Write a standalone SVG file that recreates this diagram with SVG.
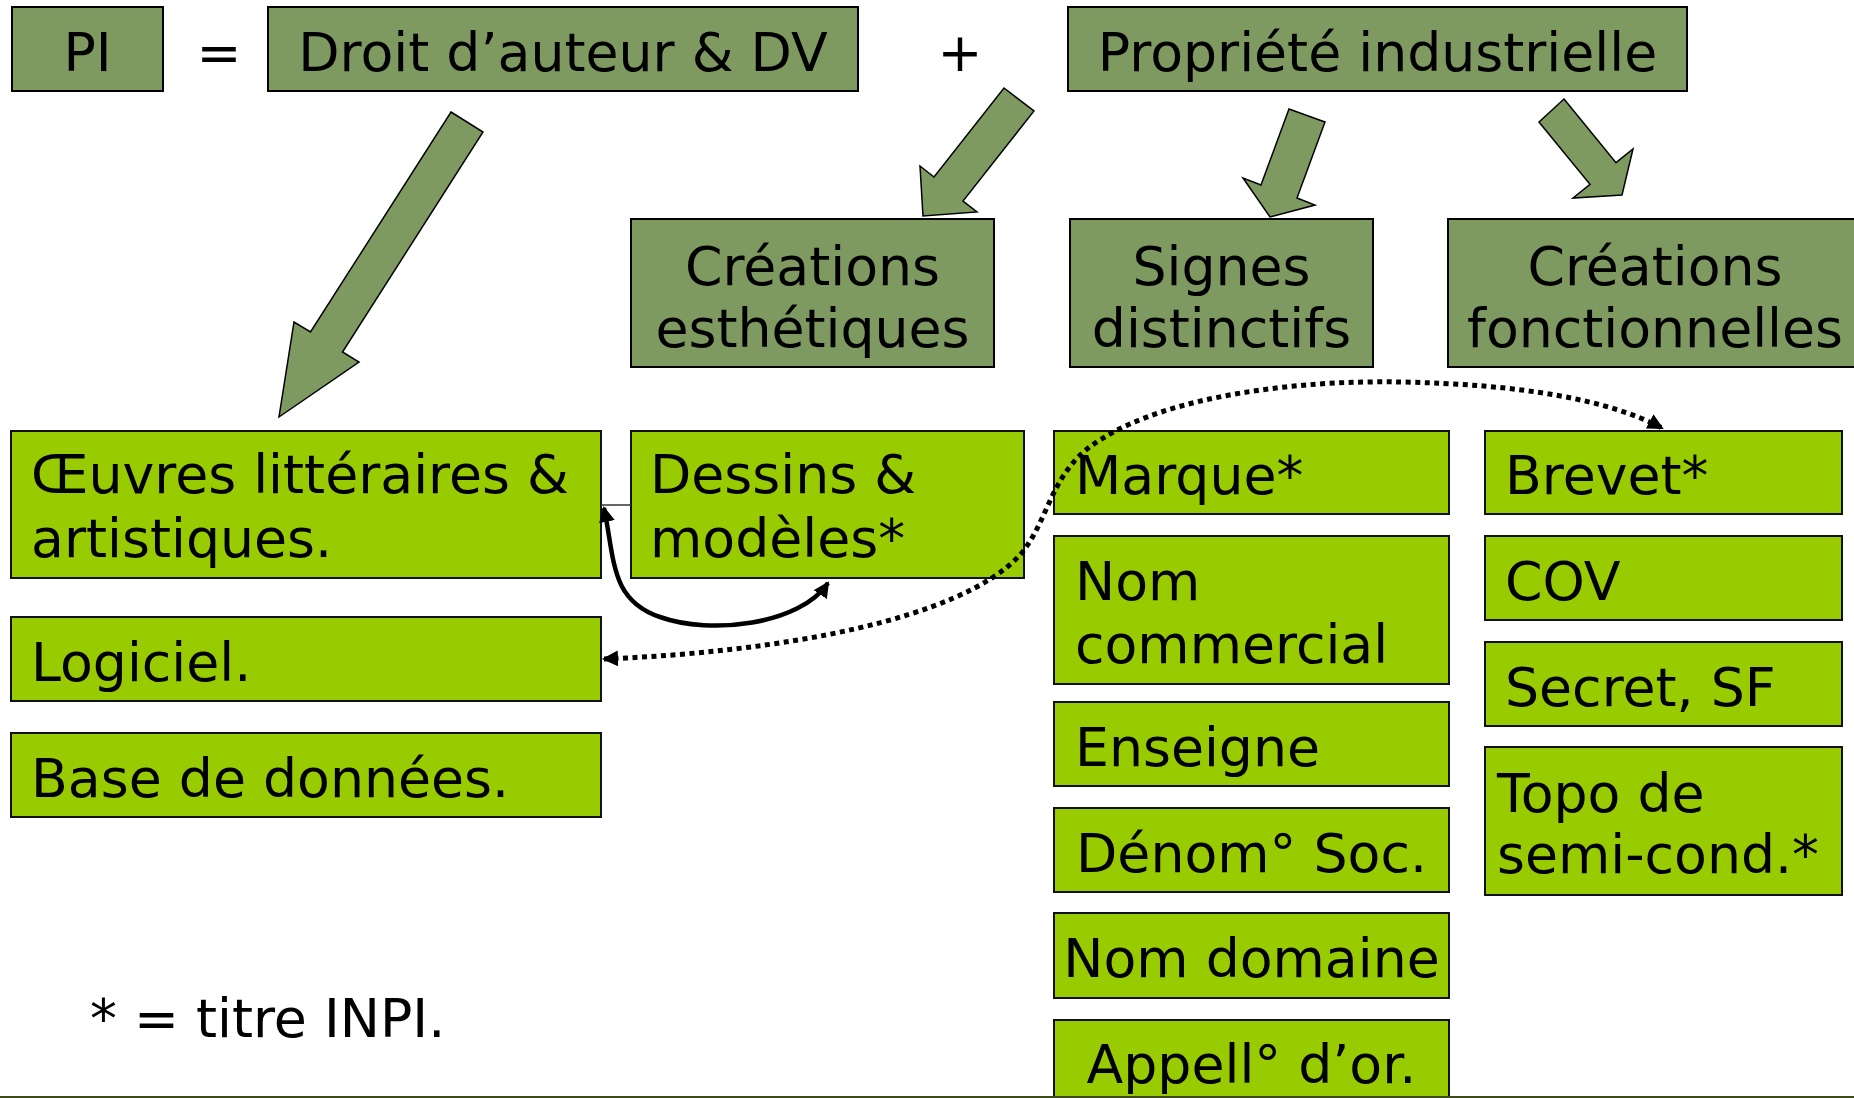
<svg xmlns="http://www.w3.org/2000/svg" width="1854" height="1098" viewBox="0 0 1854 1098">
<style>
.dk{fill:#7f9a60;stroke:#000;stroke-width:2}
.lt{fill:#99cc00;stroke:#111;stroke-width:2}
.t{font-family:"DejaVu Sans","Liberation Sans",sans-serif;font-size:53.7px;fill:#000}
.c{text-anchor:middle}
.ba{fill:#7f9a60;stroke:#000;stroke-width:1.5;stroke-linejoin:miter}
.solid{fill:none;stroke:#000;stroke-width:4.5}
.dot{fill:none;stroke:#000;stroke-width:5;stroke-dasharray:5 4.5}
</style>
<defs>
<marker id="ah" markerUnits="userSpaceOnUse" markerWidth="18" markerHeight="16" refX="14" refY="8" orient="auto-start-reverse">
<path d="M0,0 L16,8 L0,16 Z" fill="#000" stroke="none"/>
</marker>
</defs>
<rect width="1854" height="1098" fill="#fff"/>

<g id="n-pi"><rect class="dk" x="12" y="7" width="151" height="84"/><text class="t c" x="87.5" y="71">PI</text></g>
<g id="eq"><text class="t c" x="219" y="71">=</text></g>
<g id="n-da"><rect class="dk" x="268" y="7" width="590" height="84"/><text class="t c" x="563" y="71">Droit d’auteur &amp; DV</text></g>
<g id="plus"><text class="t c" x="960" y="71">+</text></g>
<g id="n-pind"><rect class="dk" x="1068" y="7" width="619" height="84"/><text class="t c" x="1377.5" y="71">Propriété industrielle</text></g>

<g id="n-cesth"><rect class="dk" x="631" y="219" width="363" height="148"/><text class="t c" x="812.5" y="285">Créations</text><text class="t c" x="812.5" y="347">esthétiques</text></g>
<g id="n-signes"><rect class="dk" x="1070" y="219" width="303" height="148"/><text class="t c" x="1221.5" y="285">Signes</text><text class="t c" x="1221.5" y="347">distinctifs</text></g>
<g id="n-cfonc"><rect class="dk" x="1448" y="219" width="414" height="148"/><text class="t c" x="1655" y="285">Créations</text><text class="t c" x="1655" y="347">fonctionnelles</text></g>

<g id="n-oeuvres"><rect class="lt" x="11" y="431" width="590" height="147"/><text class="t" x="31" y="493">Œuvres littéraires &amp;</text><text class="t" x="31" y="557">artistiques.</text></g>
<g id="n-logiciel"><rect class="lt" x="11" y="617" width="590" height="84"/><text class="t" x="31" y="681">Logiciel.</text></g>
<g id="n-bdd"><rect class="lt" x="11" y="733" width="590" height="84"/><text class="t" x="31" y="797">Base de données.</text></g>
<g id="n-dessins"><rect class="lt" x="631" y="431" width="393" height="147"/><text class="t" x="650" y="493">Dessins &amp;</text><text class="t" x="650" y="557">modèles*</text></g>

<g id="n-marque"><rect class="lt" x="1054" y="431" width="395" height="83"/><text class="t" x="1075" y="494">Marque*</text></g>
<g id="n-nomcom"><rect class="lt" x="1054" y="536" width="395" height="148"/><text class="t" x="1075" y="600">Nom</text><text class="t" x="1075" y="663">commercial</text></g>
<g id="n-enseigne"><rect class="lt" x="1054" y="702" width="395" height="84"/><text class="t" x="1075" y="766">Enseigne</text></g>
<g id="n-denom"><rect class="lt" x="1054" y="808" width="395" height="84"/><text class="t c" x="1251.5" y="872">Dénom° Soc.</text></g>
<g id="n-domaine"><rect class="lt" x="1054" y="913" width="395" height="85"/><text class="t c" x="1251.5" y="977">Nom domaine</text></g>
<g id="n-appell"><rect class="lt" x="1054" y="1020" width="395" height="100"/><text class="t c" x="1251.5" y="1083">Appell° d’or.</text></g>

<g id="n-brevet"><rect class="lt" x="1485" y="431" width="357" height="83"/><text class="t" x="1505" y="494">Brevet*</text></g>
<g id="n-cov"><rect class="lt" x="1485" y="536" width="357" height="84"/><text class="t" x="1505" y="600">COV</text></g>
<g id="n-secret"><rect class="lt" x="1485" y="642" width="357" height="84"/><text class="t" x="1505" y="706">Secret, SF</text></g>
<g id="n-topo"><rect class="lt" x="1485" y="747" width="357" height="148"/><text class="t" x="1497" y="812">Topo de</text><text class="t" x="1497" y="873">semi-cond.*</text></g>

<g id="note"><text class="t" x="90" y="1037">* = titre INPI.</text></g>

<g id="connectors">
<polygon class="ba" points="451,112 483,132 342.5,352 359,362 279,417 294,322 310.5,332"/>
<polygon class="ba" points="1004,88 1034,111 963,201 977,212 923,216 920,166 934,177"/>
<polygon class="ba" points="1289,109 1325,122 1297,198 1315,205 1270,217 1243,178 1261,185"/>
<polygon class="ba" points="1564,99 1616,162.6 1633,149 1622,195 1573,198 1590,184.4 1539,122"/>
<line x1="601" y1="505" x2="631" y2="505" stroke="#333" stroke-width="1.5"/>
<path class="solid" d="M 604,508 C 615,560 610,600 660,617 C 710,635 800,625 828,583" marker-start="url(#ah)" marker-end="url(#ah)"/>
<path class="dot" d="M 604,659 C 780,652 960,620 1020,555 C 1050,520 1050,470 1100,440 C 1170,395 1300,380 1400,382 C 1520,384 1610,400 1662,428" marker-start="url(#ah)" marker-end="url(#ah)"/>
</g>
<rect x="0" y="1096" width="1854" height="2" fill="#3a4a1a"/>
</svg>
